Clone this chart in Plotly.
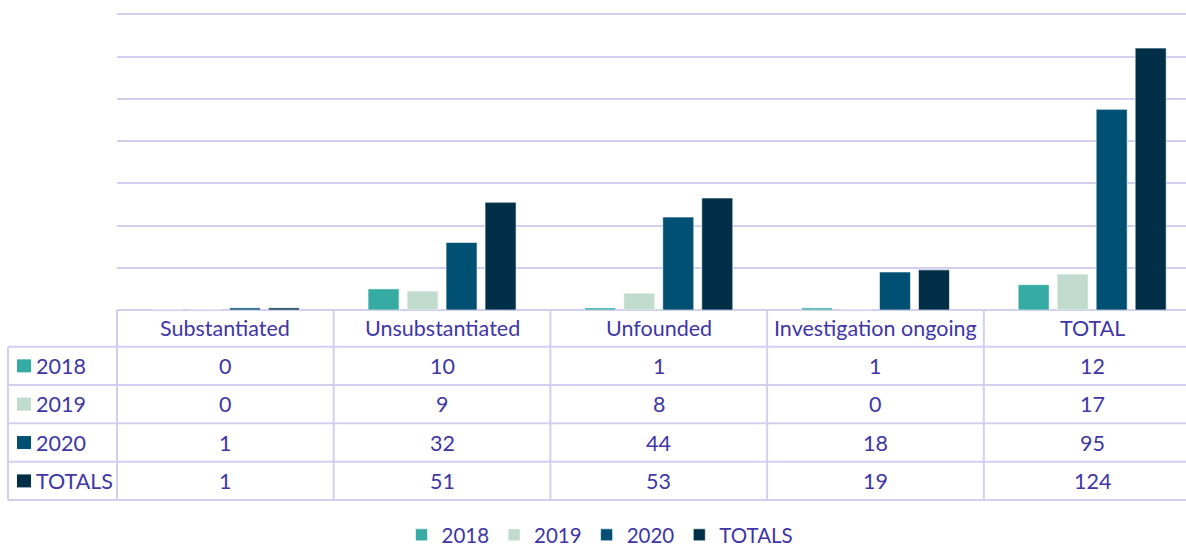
import plotly.graph_objects as go

categories = ["Substantiated", "Unsubstantiated", "Unfounded", "Investigation ongoing", "TOTAL"]
series_names = ["2018", "2019", "2020", "TOTALS"]
values_2018 = [0, 10, 1, 1, 12]
values_2019 = [0, 9, 8, 0, 17]
values_2020 = [1, 32, 44, 18, 95]
values_totals = [1, 51, 53, 19, 124]
series_values = [values_2018, values_2019, values_2020, values_totals]
colors = ["#36ABA3", "#C2DBCF", "#005073", "#002F47"]

TEXT = "#4036A6"
GRID = "#D3CFF0"
FONT = "Lato"
FS = 21.5

W, H = 1186, 546
L, T, B = 117, 13, 310          # plot area pixels
XMIN, XMAX = -0.5, 4.433

def px_x(px):
    return (px - L) / (W - L)

def px_y(py):
    return (B - py) / (B - T)

fig = go.Figure()
for name, vals, col in zip(series_names, series_values, colors):
    fig.add_trace(go.Bar(
        x=categories, y=vals, name=name,
        marker=dict(color=col, line=dict(color="rgba(255,255,255,0.6)", width=1)),
        hoverinfo="x+y+name",
    ))

shapes = []
annotations = []
line = dict(color=GRID, width=2)

# table geometry (pixels)
row_lines = [346.7, 385.0, 423.3, 461.8, 500.0]
left_x = 8
right_x = 1200
ncat = len(categories)

def cat_edge(i):
    return (i - 0.5 - XMIN) / (XMAX - XMIN)

for ry in row_lines:
    shapes.append(dict(type="line", xref="paper", yref="paper",
                       x0=px_x(left_x), x1=px_x(right_x), y0=px_y(ry), y1=px_y(ry), line=line))
for i in range(ncat + 1):
    xe = cat_edge(i)
    shapes.append(dict(type="line", xref="paper", yref="paper",
                       x0=xe, x1=xe, y0=px_y(B), y1=px_y(row_lines[-1]), line=line))
shapes.append(dict(type="line", xref="paper", yref="paper",
                   x0=px_x(left_x), x1=px_x(left_x), y0=px_y(row_lines[0]), y1=px_y(row_lines[-1]), line=line))

tfont = dict(family=FONT, size=FS, color=TEXT)
hy = (B + row_lines[0]) / 2
for c in categories:
    annotations.append(dict(x=c, y=px_y(hy), xref="x", yref="paper", text=c,
                            showarrow=False, font=tfont, xanchor="center", yanchor="middle"))
for r, (name, vals, col) in enumerate(zip(series_names, series_values, colors)):
    y0, y1 = row_lines[r], row_lines[r + 1]
    cy = (y0 + y1) / 2
    shapes.append(dict(type="rect", xref="paper", yref="paper",
                       x0=px_x(17), x1=px_x(31), y0=px_y(cy - 6.5), y1=px_y(cy + 6.5),
                       fillcolor=col, line=dict(width=0)))
    annotations.append(dict(x=px_x(34), y=px_y(cy), xref="paper", yref="paper", text=name,
                            showarrow=False, font=tfont, xanchor="left", yanchor="middle"))
    for c, v in zip(categories, vals):
        annotations.append(dict(x=c, y=px_y(cy), xref="x", yref="paper", text=str(v),
                                showarrow=False, font=tfont, xanchor="center", yanchor="middle"))

fig.update_layout(
    width=W, height=H,
    margin=dict(l=L, r=0, t=T, b=H - B, pad=0, autoexpand=False),
    paper_bgcolor="white", plot_bgcolor="white",
    barmode="group", bargap=0.28, bargroupgap=0.205,
    font=dict(family=FONT, size=FS, color=TEXT),
    xaxis=dict(range=[XMIN, XMAX], showticklabels=False, showgrid=False, zeroline=False,
               showline=False, ticks="", fixedrange=True),
    yaxis=dict(range=[0, 140.6], tickvals=[0, 20, 40, 60, 80, 100, 120, 140],
               showticklabels=False, showgrid=True,
               gridcolor=GRID, gridwidth=2, zeroline=True, zerolinecolor=GRID, zerolinewidth=2,
               showline=False, ticks="", fixedrange=True),
    legend=dict(orientation="h", x=px_x(600), xanchor="center", y=px_y(535), yanchor="middle",
                font=dict(family=FONT, size=20.5, color=TEXT), bgcolor="rgba(0,0,0,0)"),
    shapes=shapes, annotations=annotations,
)

fig.write_html("out.html", config={"displayModeBar": False},
               post_script="document.body.style.margin='0px';document.body.style.overflow='hidden';")
